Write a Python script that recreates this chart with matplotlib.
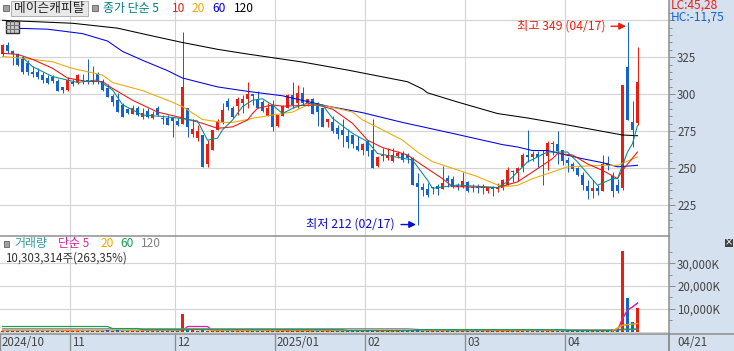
import matplotlib
matplotlib.use("Agg")
import matplotlib.pyplot as plt
from matplotlib.patches import Rectangle
from matplotlib.transforms import ScaledTranslation

plt.rcParams['font.family'] = ['Noto Sans CJK KR', 'DejaVu Sans']

# ---------- data ----------
opens = [327,333,329,327,324,321,315,315,313,311,312,309,305,303,308,308,310,310,310,314,
         309,304,299,296,293,290,287,291,285,289,284,291,284,284,284,282,280,291,273,270.7,
         272.5,253,262.5,276,281,295.5,290.5,292,294,297,
         300,296,295,285.5,293,278.5,285.5,291,299.5,294,301,294,297,294,290.5,281.5,281,277.5,276,271.5,
         272.5,265,262.4,268.5,262.4,251.5,258,257,255,258,260.5,259,257,240.3,237.6,236,237,238,236,243.7,
         243,239,237.6,241,237.6,237.6,237.6,235,237.6,236,
         237,239,248,247,251,259,257.5,260,259.7,258,266.5,266.7,262.6,255.4,253,250.5,245.7,237.8,235,237,
         235,253.6,245,239,237,318.6,281,280.4]
closes = [333,329,327,320,315,315,314,312,310,307.5,309,302,303,310,307,313,309,309,308,309,
          303,298,295,288,285,287.5,291,286,287.5,285,287,286,283,279,282,279,305,278,276.5,275,
          251,266.5,276,282,289.5,291.7,285,297,297,300,
          299,291,289,291,278,286,292,299.5,293,301,294,297,287,288,278,283,275,273.5,272.5,268,
          266.5,262.4,266.5,262,250,257.5,258.5,259,259,260.5,255.5,257,239,237.6,235.4,232,237.6,236,240,241.7,
          237.6,237.6,241.4,235,237,236.5,237,237.6,235.8,237.6,
          242,249,247.5,250.5,259,257.5,260,257.5,259,267,267,261.7,255,253.6,249.5,245.3,239,235,237,234.5,
          253,252,235,235,306,282.6,276,308.5]
highs = [334,335.5,330,328,326,323,319,318,315,313,313,310,305,312,310,314,314,324,319,315,
         310,307,300,301,294,291,293,292,291,291,289,292,286,286,284,284,342,291,283,279,
         272.5,269,276,283,294,297.5,292,298,299.5,308,
         300,302,296,294,296,286,293,300,308,306.5,305,297,297.5,295,291,283,285,279,283,276.5,
         272.5,271.5,267,269,283,258,264,264,264,262,262,260,257.5,247,240,240,237.6,239.4,251.6,245.5,
         244.8,240,247.7,241.4,239.4,239.4,239.4,237.6,238,239.8,
         243,251,249,251,260,276,262,261.5,262.5,268.5,268.5,275,262.6,257.7,254,251,247.5,242,242,238.5,
         258.8,258,247.5,243,306.5,349,295.5,332]
lows = [326,328,320,319,314,313,312,310.5,307.5,307,307.5,302,301,302.5,305.5,307,307,307,307,307,
        302,298,292,288,284.5,287,286.5,285,283,284,283,285,280,279,271,278.5,280,271,271,268.5,
        251,251,262.5,276,280,289.5,284,286,287.5,290.5,
        293,290.5,288,285,275,278,285,291,291,291,293,292,287,278.5,278,278,274,269.5,264.5,264,
        264,261.7,259,258.5,250,251,255,255.5,254.5,257,254.5,253.5,239,212,231,230.4,232.7,232,236,237.6,
        237,235,237,234,234,233.6,232.7,233.6,231.3,234,
        235.6,238.5,241,241.5,247.5,254,255,251,238.5,249,259,252.7,252,247.5,248,245,235.6,229.5,230,231.8,
        234.7,248.6,230.6,233,235,282.6,264.5,279]
volumes = [300,250,200,250,300,200,150,200,250,200,150,300,200,300,200,250,150,200,150,250,
           300,600,250,600,300,200,300,200,250,200,300,250,300,250,200,300,7600,900,500,400,
           500,400,350,300,300,250,200,300,250,300,200,250,200,300,400,300,250,300,250,350,
           250,200,300,250,300,150,200,200,250,150,200,150,200,250,600,350,200,200,200,150,
           200,150,500,1300,300,200,150,200,300,200,200,150,300,250,150,150,150,150,150,150,
           200,300,150,150,300,250,150,150,200,400,200,300,300,200,200,250,300,200,150,150,
           500,300,1000,500,35400,14700,4100,10300]

ma120_i = [0,7,14,23,30,36,43,49,60,69,81,84,85,91,99,105,113,124,127]
ma120_v = [350,349,348,344.7,339.4,335,330.4,327.2,321.8,316.4,308.5,303.6,301,294.8,287,284,279.3,272.5,272]
ma60_i = [3,9,16,21,24,28,33,36,43,49,56,65,72,80,90,100,103,106,109,113,116,120,123,127]
ma60_v = [344.6,344,341,336,329,323,316,311,305,302,299,292,287.6,281,273.6,266,264.4,262,262,258.8,256.5,253.8,251,252]
ma20_i = [0,2,6,10,14,20,22,28,33,36,40,44,46,49,50,54,58,61,65,70,72,76,80,83,86,90,95,99,100,103,106,110,113,120,123,127]
ma20_v = [325.5,325,323.6,322,317.5,313,308,302.5,296,291.7,283,281,281,283,283.8,286,288,292.8,292,288,282.7,276,269,261,254.5,250,244.4,238.7,237.4,238.5,243,247.5,251,252,252,257.7]
ma10_i = [0,3,6,10,13,17,20,22,26,31,36,40,43,46,49,50,51,54,56,63,66,70,73,76,81,84,88,90,99,103,106,110,111,114,117,120,123,124,127]
ma10_v = [327.7,327,323.6,317.6,311,308.6,308.6,304,296,288,284,280.4,277,278,282.6,287,290.5,292.8,292,292.8,290,280.4,269,264,259,252,243,237.6,237,240.8,247.5,256.5,260,259,253,248.6,243,248.6,261]
ma5_i = [4,6,10,15,19,22,24,28,32,35,39,41,43,44,46,48,50,52,54,56,58,61,64,66,70,73,75,80,82,85,86,91,99,101,105,109,113,115,119,122,123,125,126,127]
ma5_v = [325,318.7,312,308,309.7,303,293,286,285,284,282,269,270.4,276,282.6,291.7,296,297,292.8,287,290.5,294,292.8,283.8,273.6,268,260,256.8,255.6,242,236.5,238.7,237,240.8,254.3,261,261,254.3,238.5,243,243,261,266.7,279]

vol120_i = [0,81,84,123,127]
vol120_v = [1200,1200,800,700,900]
vol60_i = [0,21,22,27,28,68,69,82,83,112,113,122,124,127]
vol60_v = [2200,2200,1300,1300,800,800,500,500,800,800,500,500,1000,1150]
vol20_i = [0,36,37,41,42,55,56,102,103,112,113,122,124,127]
vol20_v = [550,550,900,900,500,500,300,300,500,500,300,300,2800,3500]
vol5_i = [0,36,37,41,42,123,124,125,126,127]
vol5_v = [400,400,2200,2200,400,400,5700,9400,10800,12500]

month_idx = [0,14,35,55,73,93,113]
month_labels = ['2024/10','11','12','2025/01','02','03','04']
price_ticks = [350,325,300,275,250,225]
price_labels = ['','325','300','275','250','225']
vol_ticks = [10000,20000,30000]
vol_labels = ['10,000K','20,000K','30,000K']

# ---------- style ----------
W, H = 734, 351
RED, BLUE = '#ee1c0e', '#1462d2'
GRID, AXC, STRIP = '#d3d3d3', '#8c8c8c', '#d6e1f0'
TXT = '#444444'
PX = 72/100

fig = plt.figure(figsize=(W/100, H/100), dpi=100, facecolor=STRIP)
RIGHT, SPLIT, BOTTOM = 669, 235.5, 333.5
ax = fig.add_axes([0, 1-SPLIT/H, RIGHT/W, SPLIT/H])
av = fig.add_axes([0, 1-BOTTOM/H, RIGHT/W, (BOTTOM-SPLIT)/H])

xlim = (-0.5, (RIGHT-2.5)/5)
for a in (ax, av):
    a.set_xlim(*xlim)
    a.set_facecolor('white')
    for s in a.spines.values():
        s.set_visible(False)
    a.spines['right'].set_visible(True)
    a.spines['right'].set_color(AXC)
    a.spines['right'].set_linewidth(1.5*PX)
    a.yaxis.tick_right()
    a.tick_params(axis='y', which='major', length=4.3, width=PX, color=AXC,
                  labelsize=8.3, labelcolor=TXT, pad=1.5)
    a.tick_params(axis='y', which='minor', length=2, width=PX, color=AXC)
    a.set_axisbelow(True)
    a.grid(True, axis='y', color=GRID, lw=PX*1.1)
    for m in month_idx[1:]:
        a.axvline(m-0.5, color=GRID, lw=PX*1.1, zorder=0)

# price panel
ax.set_ylim(325-(SPLIT-57.3)/1.48, 325+57.3/1.48)
ax.set_yticks(price_ticks, price_labels)
ax.set_yticks(range(210, 360, 5), minor=True)
ax.set_xticks([])

idx = list(range(len(opens)))
cols = [RED if c >= o else BLUE for o, c in zip(opens, closes)]
ax.vlines(idx, lows, highs, colors=cols, lw=PX, zorder=3)
ax.bar(idx, [max(abs(c-o), 0.7) for o, c in zip(opens, closes)],
       bottom=[min(o, c) for o, c in zip(opens, closes)],
       width=0.68, color=cols, lw=0, zorder=3, antialiased=False)

for xs, ys, col in [(ma120_i, ma120_v, '#000000'), (ma60_i, ma60_v, '#0000f0'),
                    (ma20_i, ma20_v, '#f0a800'), (ma10_i, ma10_v, '#ee1111'),
                    (ma5_i, ma5_v, '#008c8c')]:
    ax.plot(xs, ys, color=col, lw=1.05*PX, zorder=4)

# high/low annotation
ax.annotate('', xy=(124.7, 346), xytext=(121.7, 346),
            arrowprops=dict(arrowstyle='-|>', color=RED, lw=1.0, mutation_scale=10, shrinkA=0, shrinkB=0))
ax.text(120.6, 346.2, '최고 349 (04/17)', color=RED, fontsize=8.8, ha='right', va='center')
ax.annotate('', xy=(82.7, 212), xytext=(79.7, 212),
            arrowprops=dict(arrowstyle='-|>', color='#0a0adc', lw=1.0, mutation_scale=10, shrinkA=0, shrinkB=0))
ax.text(78.5, 212.2, '최저 212 (02/17)', color='#0a0adc', fontsize=8.8, ha='right', va='center')

# volume panel
k_per_px = 440.0
zero_y = 331.5
av.set_ylim(-(BOTTOM-zero_y)*k_per_px, (zero_y-SPLIT)*k_per_px)
av.set_yticks(vol_ticks, vol_labels)
av.set_yticks(range(5000, 40000, 5000), minor=True)
av.axhline(0, color=GRID, lw=PX, zorder=0)
av.plot(vol5_i, vol5_v, color='#e020a8', lw=1.3*PX, zorder=2)
av.plot(vol20_i, vol20_v, color='#f0a800', lw=1.3*PX, zorder=2.1)
av.bar(idx, volumes, width=0.68, color=cols, lw=0, zorder=3, antialiased=False)
av.plot(vol120_i, vol120_v, color='#808080', lw=1.2*PX, zorder=4)
av.plot(vol60_i, vol60_v, color='#10a050', lw=1.2*PX, zorder=4.1)
av.plot(vol5_i[-5:], vol5_v[-5:], color='#e020a8', lw=1.1*PX, zorder=5)
av.plot(vol20_i[-3:], vol20_v[-3:], color='#f0a800', lw=1.3*PX, zorder=5.1)

av.set_xticks([m-0.5 for m in month_idx], month_labels, ha='left')
av.tick_params(axis='x', length=13, width=1.3*PX, color=AXC, pad=-11.5, labelsize=8.3, labelcolor=TXT)
off = ScaledTranslation(2/100, 0, fig.dpi_scale_trans)
for lab in av.get_xticklabels():
    lab.set_transform(lab.get_transform() + off)

# separators (figure pixel coordinates)
def fx(x): return x/W
def fy(y): return 1-y/H
def add_line(x0, y0, x1, y1, col=AXC, lw=1.5*PX, z=5):
    fig.add_artist(plt.Line2D([fx(x0), fx(x1)], [fy(y0), fy(y1)], color=col, lw=lw, zorder=z))
def add_rect(x0, y0, w, h, fc, ec='none', lw=0.7, z=6):
    fig.add_artist(Rectangle((fx(x0), fy(y0+h)), w/W, h/H, transform=fig.transFigure,
                             facecolor=fc, edgecolor=ec, lw=lw, zorder=z))
add_line(0, SPLIT, RIGHT, SPLIT)
add_line(0, BOTTOM, W, BOTTOM)
add_line(RIGHT, BOTTOM, RIGHT, H)

def ftext(x, y, s, col, size=8.3, **kw):
    fig.text(fx(x), fy(y), s, color=col, fontsize=size, va='center', ha='left', zorder=8, **kw)

# header row
add_rect(2.5, 5, 6, 6, '#a0a0a0', '#707070')
add_rect(10.5, 1.5, 77, 14.5, '#e8e8e8', '#b0b0b0')
ftext(14, 8.6, '메이슨캐피탈', '#222222', 9.2)
add_rect(91.5, 5, 6, 6, '#a0a0a0', '#707070')
ftext(103, 8.6, '종가 단순 5', '#008080', 8.6)
ftext(172, 8.6, '10', RED, 8.6)
ftext(192, 8.6, '20', '#f0a800', 8.6)
ftext(212, 8.6, '60', '#0000f0', 8.6)
ftext(234, 8.6, '120', '#000000', 8.6)

# grid icon
add_rect(5.5, 20.5, 13, 12, '#c8c8c8', '#303030', 1.0)
for gx in (9.8, 14.1):
    add_line(gx, 21, gx, 32, '#707070', PX, 7)
for gy in (24.5, 28.5):
    add_line(6, gy, 18.5, gy, '#707070', PX, 7)

# right strip
ftext(670.5, 5.5, 'LC:45,28', RED, 8.6)
ftext(670.5, 17, 'HC:-11,75', BLUE, 8.6)
ftext(677, 342, '04/21', TXT, 8.3)
add_line(RIGHT, BOTTOM, RIGHT, H)

# volume header
add_rect(3.5, 241, 5, 5.5, '#a0a0a0', '#707070')
ftext(14, 243.6, '거래량', '#2f9a9a', 8.6)
ftext(58.5, 243.6, '단순 5', '#e020a8', 8.6)
ftext(100.5, 243.6, '20', '#f0a800', 8.6)
ftext(120.5, 243.6, '60', '#10a050', 8.6)
ftext(141, 243.6, '120', '#808080', 8.6)
ftext(5, 258, '10,303,314주(263,35%)', '#333333', 8.3)

# expand icon
add_rect(724.5, 239, 8, 7.5, '#404040')
fig.text(fx(728.5), fy(242.7), '×', color='#ffffff', fontsize=7, ha='center', va='center',
         family='DejaVu Sans', zorder=8)

fig.savefig('out.png', dpi=100, facecolor=fig.get_facecolor())
